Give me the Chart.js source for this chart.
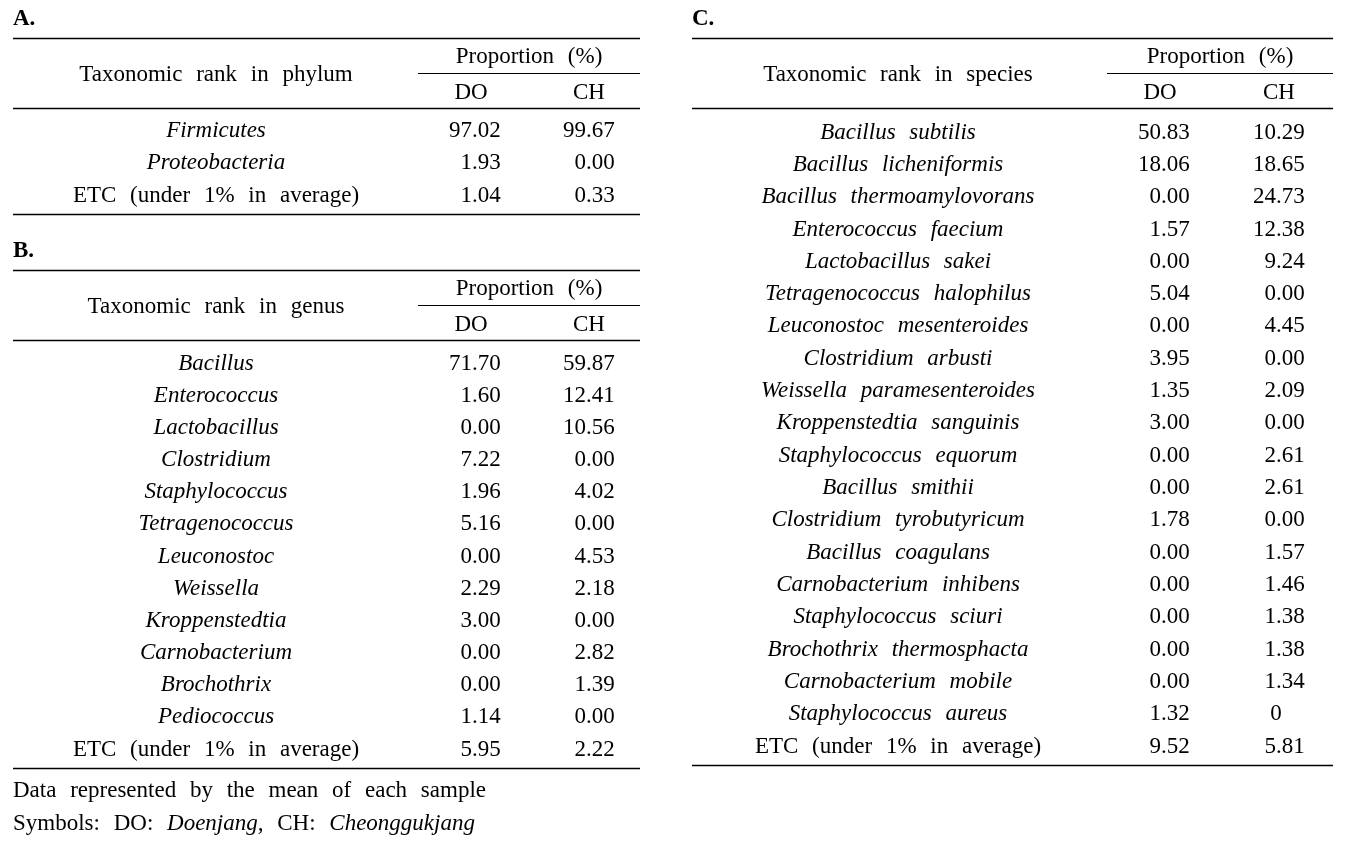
<!DOCTYPE html>
<html>
<head>
<meta charset="utf-8">
<script src="https://cdn.jsdelivr.net/npm/chart.js@4.4.0/dist/chart.umd.min.js"></script>
<style>
  html, body { margin: 0; padding: 0; background: #fff; }
  #tableChart { display: block; }
</style>
</head>
<body>
<canvas id="tableChart" width="1345" height="845"></canvas>
<script>
// table A: phylum
let phylumNames = ['Firmicutes', 'Proteobacteria', 'ETC (under 1% in average)'];
let phylumDO = ['97.02', '1.93', '1.04'];
let phylumCH = ['99.67', '0.00', '0.33'];

// table B: genus
let genusNames = ['Bacillus', 'Enterococcus', 'Lactobacillus', 'Clostridium', 'Staphylococcus',
  'Tetragenococcus', 'Leuconostoc', 'Weissella', 'Kroppenstedtia', 'Carnobacterium',
  'Brochothrix', 'Pediococcus', 'ETC (under 1% in average)'];
let genusDO = ['71.70', '1.60', '0.00', '7.22', '1.96', '5.16', '0.00', '2.29', '3.00', '0.00', '0.00', '1.14', '5.95'];
let genusCH = ['59.87', '12.41', '10.56', '0.00', '4.02', '0.00', '4.53', '2.18', '0.00', '2.82', '1.39', '0.00', '2.22'];

// table C: species
let speciesNames = ['Bacillus subtilis', 'Bacillus licheniformis', 'Bacillus thermoamylovorans',
  'Enterococcus faecium', 'Lactobacillus sakei', 'Tetragenococcus halophilus',
  'Leuconostoc mesenteroides', 'Clostridium arbusti', 'Weissella paramesenteroides',
  'Kroppenstedtia sanguinis', 'Staphylococcus equorum', 'Bacillus smithii',
  'Clostridium tyrobutyricum', 'Bacillus coagulans', 'Carnobacterium inhibens',
  'Staphylococcus sciuri', 'Brochothrix thermosphacta', 'Carnobacterium mobile',
  'Staphylococcus aureus', 'ETC (under 1% in average)'];
let speciesDO = ['50.83', '18.06', '0.00', '1.57', '0.00', '5.04', '0.00', '3.95', '1.35', '3.00',
  '0.00', '0.00', '1.78', '0.00', '0.00', '0.00', '0.00', '0.00', '1.32', '9.52'];
let speciesCH = ['10.29', '18.65', '24.73', '12.38', '9.24', '0.00', '4.45', '0.00', '2.09', '0.00',
  '2.61', '2.61', '0.00', '1.57', '1.46', '1.38', '1.38', '1.34', '0', '5.81'];

let columnLabels = ['DO', 'CH'];
let footnotes = ['Data represented by the mean of each sample'];

const FONT = '"Liberation Serif", "Times New Roman", serif';
const SIZE = 23;
const EXTRA_GAP = 8;
const NUDGE = 1.5; // text centre sits a little low in the original

// draws text word by word so gaps can be widened like the typeset original
function wordText(ctx, str, x, y, align, style) {
  ctx.font = (style || '') + ' ' + SIZE + 'px ' + FONT;
  let words = str.split(' ');
  let gap = ctx.measureText(' ').width + EXTRA_GAP;
  let widths = words.map(w => ctx.measureText(w).width);
  let total = widths.reduce((a, b) => a + b, 0) + gap * (words.length - 1);
  let cx = align === 'center' ? x - total / 2 : (align === 'right' ? x - total : x);
  ctx.textAlign = 'left';
  words.forEach((w, i) => {
    ctx.fillText(w, cx, y + NUDGE);
    cx += widths[i] + gap;
  });
  return total;
}

// numbers line up on the decimal point; a bare integer is centred
function numText(ctx, str, dotX, y) {
  ctx.font = SIZE + 'px ' + FONT;
  let dot = str.indexOf('.');
  if (dot < 0) {
    ctx.textAlign = 'center';
    ctx.fillText(str, dotX, y + NUDGE);
    return;
  }
  ctx.textAlign = 'right';
  ctx.fillText(str.slice(0, dot), dotX, y + NUDGE);
  ctx.textAlign = 'left';
  ctx.fillText(str.slice(dot), dotX, y + NUDGE);
}

function rule(chart, x1, x2, y, w) {
  let ctx = chart.ctx, sx = chart.scales.x, sy = chart.scales.y;
  ctx.beginPath();
  ctx.lineWidth = w;
  ctx.strokeStyle = '#000';
  let py = Math.round(sy.getPixelForValue(y)) + (w % 2 ? 0.5 : 0);
  ctx.moveTo(sx.getPixelForValue(x1), py);
  ctx.lineTo(sx.getPixelForValue(x2), py);
  ctx.stroke();
}

let tables = [
  { tag: 'A.', title: 'Taxonomic rank in phylum', names: phylumNames, doVals: phylumDO, chVals: phylumCH,
    left: 13, right: 640, top: 38, nameX: 216, subLeft: 418, doDot: 472, chDot: 586, firstRow: 129, rowStep: 32.5 },
  { tag: 'B.', title: 'Taxonomic rank in genus', names: genusNames, doVals: genusDO, chVals: genusCH,
    left: 13, right: 640, top: 270, nameX: 216, subLeft: 418, doDot: 472, chDot: 586, firstRow: 362, rowStep: 32.17 },
  { tag: 'C.', title: 'Taxonomic rank in species', names: speciesNames, doVals: speciesDO, chVals: speciesCH,
    left: 692, right: 1333, top: 38, nameX: 898, subLeft: 1107, doDot: 1161, chDot: 1276, firstRow: 131, rowStep: 32.32 }
];

const tablePlugin = {
  id: 'tablePlugin',
  afterDraw(chart) {
    let ctx = chart.ctx, sx = chart.scales.x, sy = chart.scales.y;
    let X = v => sx.getPixelForValue(v), Y = v => sy.getPixelForValue(v);
    ctx.save();
    ctx.fillStyle = '#000';
    ctx.textBaseline = 'middle';
    tables.forEach(t => {
      wordText(ctx, t.tag, X(t.left), Y(t.top - 20), 'left', 'bold');
      rule(chart, t.left, t.right, t.top, 1.5);
      let propX = (t.subLeft + t.right) / 2;
      wordText(ctx, 'Proportion (%)', X(propX), Y(t.top + 17), 'center');
      rule(chart, t.subLeft, t.right, t.top + 35, 1);
      wordText(ctx, t.title, X(t.nameX), Y(t.top + 35), 'center');
      wordText(ctx, columnLabels[0], X(t.doDot - 1), Y(t.top + 53), 'center');
      wordText(ctx, columnLabels[1], X(t.chDot + 3), Y(t.top + 53), 'center');
      rule(chart, t.left, t.right, t.top + 70, 1.5);
      t.names.forEach((n, i) => {
        let y = Y(t.firstRow + i * t.rowStep);
        let italic = n.indexOf('ETC') !== 0;
        wordText(ctx, n, X(t.nameX), y, 'center', italic ? 'italic' : '');
        numText(ctx, t.doVals[i], X(t.doDot), y);
        numText(ctx, t.chVals[i], X(t.chDot), y);
      });
      let last = t.firstRow + (t.names.length - 1) * t.rowStep;
      rule(chart, t.left, t.right, last + 20, 1.5);
    });

    // footnotes under table B
    wordText(ctx, footnotes[0], X(13), Y(789), 'left');
    let runs = [['Symbols: DO: ', ''], ['Doenjang,', 'italic'], [' CH: ', ''], ['Cheonggukjang', 'italic']];
    let cx = X(13);
    runs.forEach(r => {
      let s = r[0];
      ctx.font = SIZE + 'px ' + FONT;
      let gap = ctx.measureText(' ').width + EXTRA_GAP;
      if (s.startsWith(' ')) cx += gap;
      cx += wordText(ctx, s.trim(), cx, Y(822), 'left', r[1]);
      if (s.endsWith(' ')) cx += gap;
    });
    ctx.restore();
  }
};

let tableChart = new Chart(document.getElementById('tableChart'), {
  type: 'scatter',
  data: { datasets: [] },
  options: {
    responsive: false,
    animation: false,
    layout: { padding: 0 },
    plugins: { legend: { display: false }, tooltip: { enabled: false } },
    scales: {
      x: { type: 'linear', min: 0, max: 1345, display: false },
      y: { type: 'linear', min: 0, max: 845, reverse: true, display: false }
    }
  },
  plugins: [tablePlugin]
});
</script>
</body>
</html>
